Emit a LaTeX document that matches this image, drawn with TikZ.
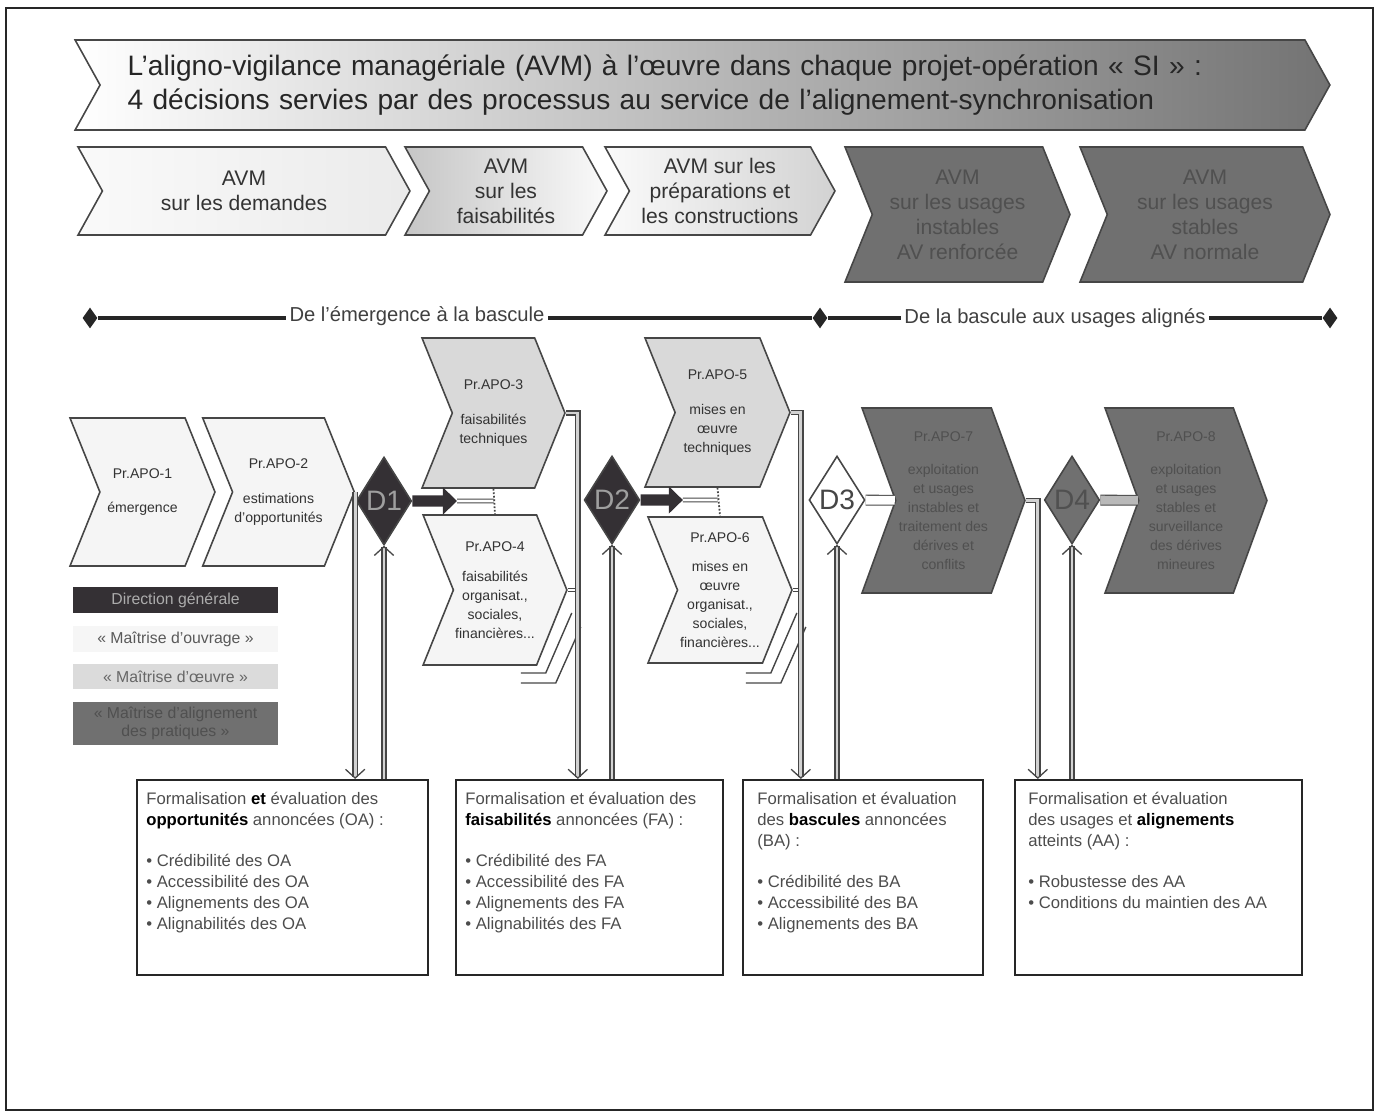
\documentclass[tikz,border=0pt]{standalone}
\usepackage{fontspec}
\setmainfont{Liberation Sans}
\usetikzlibrary{positioning,shapes.symbols,shapes.geometric,arrows.meta,calc}
\definecolor{DecDark}{RGB}{52,48,52}
\definecolor{UsageGray}{RGB}{112,112,112}
\definecolor{UsageText}{RGB}{80,80,80}
\definecolor{InkGray}{RGB}{70,70,70}

\begin{document}
\begin{tikzpicture}[x=0.02cm,y=-0.02cm,
    chev/.style={signal,signal to=east,signal from=west,
                 signal pointer angle=#1,draw=InkGray,line width=0.9pt,
                 inner sep=1pt,align=center},
    banner/.style={chev=122,minimum width=25.1cm,minimum height=1.8cm,
                   left color=white,middle color=gray!22,right color=black!55,
                   text width=23cm,align=left,
                   font=\fontsize{16}{19}\selectfont,text=black!85},
    avm/.style={chev=122,minimum height=1.76cm,
                font=\fontsize{12}{14.2}\selectfont,text=black!80},
    avmdark/.style={chev=136,minimum height=2.7cm,fill=UsageGray,
                    font=\fontsize{12}{14.2}\selectfont,text=UsageText},
    apo/.style={chev=136,minimum width=2.9cm,minimum height=2.96cm,
                font=\fontsize{8}{10.8}\selectfont,text=black!80},
    apodark/.style={chev=140,minimum width=3.26cm,minimum height=3.7cm,
                    fill=UsageGray,font=\fontsize{8}{10.8}\selectfont,text=UsageText},
    dec/.style={diamond,draw=InkGray,line width=0.9pt,inner sep=0pt,
                minimum width=1.04cm,minimum height=1.76cm,
                font=\fontsize{16}{16}\selectfont},
    legend/.style={minimum width=4.1cm,minimum height=0.52cm,inner sep=1pt,
                   align=center,font=\fontsize{9}{10.5}\selectfont},
    evalbox/.style={draw=black!85,line width=1.2pt,minimum height=3.9cm},
    evaltext/.style={inner sep=0pt,align=left,text=black!70,
                     font=\fontsize{9.5}{12}\selectfont},
    flow/.style={draw=InkGray,line width=0.75pt,double=gray!35,double distance=1.6pt,
                 -{Straight Barb[length=5pt,width=11pt]}},
    link/.style={draw=InkGray,line width=0.5pt,double=white,double distance=1.6pt},
    decarrow/.style={DecDark,line width=6.5pt,-{Triangle[length=8pt,width=15pt]}},
    stack/.style={draw=InkGray,line width=0.8pt},
    phase/.style={draw=black!85,line width=2.4pt},
    phasepin/.style={diamond,fill=black!85,inner sep=0pt,
                     minimum width=0.3cm,minimum height=0.42cm},
    phaselabel/.style={fill=white,inner sep=2pt,text=black!75,
                       font=\fontsize{11.5}{13}\selectfont}]
  \useasboundingbox (0,0) rectangle (1380,1111);
  \draw[line width=1.2pt,black!85] (6,8) rectangle (1373,1110);

  % bandeau titre
  \node[banner] (titre) at (702.5,85)
    {L'aligno-vigilance managériale (AVM) à l'œuvre dans chaque projet-opération « SI » :\\
     4 décisions servies par des processus au service de l'alignement-synchronisation};

  % les cinq AVM
  \node[avm,minimum width=6.64cm,left color=gray!4,right color=gray!16] (avm1) at (244,191)
    {AVM\\sur les demandes};
  \node[avm,minimum width=4.04cm,left color=gray!45,right color=gray!4] (avm2) at (506,191)
    {AVM\\sur les\\faisabilités};
  \node[avm,minimum width=4.6cm,left color=gray!4,right color=gray!35] (avm3) at (720,191)
    {AVM sur les\\préparations et\\les constructions};
  \node[avmdark,minimum width=4.5cm] (avm4) at (957.5,214.5)
    {AVM\\sur les usages\\instables\\AV renforcée};
  \node[avmdark,minimum width=5cm] (avm5) at (1205,214.5)
    {AVM\\sur les usages\\stables\\AV normale};

  % phases
  \node[phasepin] (pin1) at (90,318) {};
  \node[phasepin] (pin2) at (820,318) {};
  \node[phasepin] (pin3) at (1330,318) {};
  \draw[phase] (pin1) -- (pin2) -- (pin3);
  \node[phaselabel] (phase1) at (417,316) {De l'émergence à la bascule};
  \node[phaselabel] (phase2) at (1055,318) {De la bascule aux usages alignés};

  % processus
  \node[apo,fill=gray!8] (apo1) at (142.5,492) {Pr.APO-1\\[9pt]émergence};
  \node[apo,fill=gray!8,minimum width=2.94cm] (apo2) at (278.5,492)
    {Pr.APO-2\\[9pt]estimations\\d'opportunités};
  \node[apo,fill=gray!30,minimum width=2.86cm,minimum height=3cm] (apo3) at (493.5,413)
    {Pr.APO-3\\[9pt]faisabilités\\techniques};
  \node[apo,fill=gray!8,minimum width=2.8cm,minimum height=3cm] (apo4) at (495,590)
    {Pr.APO-4\\[6pt]faisabilités\\organisat.,\\sociales,\\financières...};
  \node[apo,fill=gray!30,minimum height=2.98cm] (apo5) at (717.5,412.5)
    {Pr.APO-5\\[9pt]mises en\\œuvre\\techniques};
  \node[apo,fill=gray!8,minimum width=2.88cm,minimum height=2.92cm] (apo6) at (720,590)
    {Pr.APO-6\\[6pt]mises en\\œuvre\\organisat.,\\sociales,\\financières...};
  \node[apodark] (apo7) at (943.5,500.5)
    {Pr.APO-7\\[8pt]exploitation\\et usages\\instables et\\traitement des\\dérives et\\conflits};
  \node[apodark,minimum width=3.24cm] (apo8) at (1186,500.5)
    {Pr.APO-8\\[8pt]exploitation\\et usages\\stables et\\surveillance\\des dérives\\mineures};

  % piles derrière Pr.APO-4 et Pr.APO-6
  \draw[stack] ([shift={(4,23)}]apo4.east) -- ([shift={(-22,83)}]apo4.east) -- ([shift={(-47,83)}]apo4.east);
  \draw[stack] ([shift={(13,37)}]apo4.east) -- ([shift={(-12,93)}]apo4.east) -- ([shift={(-47,93)}]apo4.east);
  \draw[stack] ([shift={(4,23)}]apo6.east) -- ([shift={(-22,83)}]apo6.east) -- ([shift={(-47,83)}]apo6.east);
  \draw[stack] ([shift={(13,37)}]apo6.east) -- ([shift={(-12,93)}]apo6.east) -- ([shift={(-47,93)}]apo6.east);

  % décisions
  \node[dec,fill=DecDark,text=gray!75] (d1) at (384,501) {D1};
  \node[dec,fill=DecDark,text=gray!75] (d2) at (612,500) {D2};
  \node[dec,fill=white,text=InkGray] (d3) at (837,500) {D3};
  \node[dec,fill=UsageGray,text=UsageText] (d4) at (1072,500) {D4};

  % légende
  \node[legend,fill=DecDark,text=gray!65] (lg1) at (175.5,600) {Direction générale};
  \node[legend,fill=gray!7,text=black!65] (lg2) at (175.5,639) {« Maîtrise d'ouvrage »};
  \node[legend,fill=gray!28,text=black!60] (lg3) at (175.5,676.5) {« Maîtrise d'œuvre »};
  \node[legend,fill=UsageGray,text=UsageText,minimum height=0.86cm] (lg4) at (175.5,723.5)
    {« Maîtrise d'alignement\\des pratiques »};

  % évaluations
  \node[evalbox,minimum width=5.82cm] (b1) at (282.5,877.5) {};
  \node[evalbox,minimum width=5.34cm] (b2) at (589.5,877.5) {};
  \node[evalbox,minimum width=4.8cm] (b3) at (863,877.5) {};
  \node[evalbox,minimum width=5.74cm] (b4) at (1158.5,877.5) {};
  \node[evaltext,below right=0.26cm and 0.2cm of b1.north west] (b1txt)
    {Formalisation \textbf{\color{black}et} évaluation des\\
     \textbf{\color{black}opportunités} annoncées (OA) :\\[11pt]
     • Crédibilité des OA\\• Accessibilité des OA\\• Alignements des OA\\• Alignabilités des OA};
  \node[evaltext,below right=0.26cm and 0.2cm of b2.north west] (b2txt)
    {Formalisation et évaluation des\\
     \textbf{\color{black}faisabilités} annoncées (FA) :\\[11pt]
     • Crédibilité des FA\\• Accessibilité des FA\\• Alignements des FA\\• Alignabilités des FA};
  \node[evaltext,below right=0.26cm and 0.3cm of b3.north west] (b3txt)
    {Formalisation et évaluation\\des \textbf{\color{black}bascules} annoncées\\(BA) :\\[11pt]
     • Crédibilité des BA\\• Accessibilité des BA\\• Alignements des BA};
  \node[evaltext,below right=0.26cm and 0.28cm of b4.north west] (b4txt)
    {Formalisation et évaluation\\des usages et \textbf{\color{black}alignements}\\atteints (AA) :\\[11pt]
     • Robustesse des AA\\• Conditions du maintien des AA};

  % sorties des processus vers les évaluations
  \coordinate (in2) at ($(apo3.east |- b2.north)+(12,0)$);
  \coordinate (in3) at ($(apo5.east |- b3.north)+(10,0)$);
  \coordinate (in4) at ($(apo7.east |- b4.north)+(12,0)$);
  \draw[link] (apo4.east) -- (apo4.east -| in2);
  \draw[link] (apo6.east) -- (apo6.east -| in3);
  \draw[flow] (apo2.east) -- (apo2.east |- b1.north);
  \draw[flow] (apo3.east) -| (in2);
  \draw[flow] (apo5.east) -| (in3);
  \draw[flow] (apo7.east) -| (in4);

  % retours des évaluations vers les décisions
  \draw[flow] (d1.south |- b1.north) -- (d1.south);
  \draw[flow] (d2.south |- b2.north) -- (d2.south);
  \draw[flow] (d3.south |- b3.north) -- (d3.south);
  \draw[flow] (d4.south |- b4.north) -- (d4.south);

  % décisions vers processus
  \coordinate (j1) at ($(d1.east)!0.55!(apo3.south |- d1.east)$);
  \coordinate (j2) at ($(d2.east)!0.55!(apo5.south |- d2.east)$);
  \draw[link] (j1) -- (apo3.south |- d1.east);
  \draw[link] (j2) -- (apo5.south |- d2.east);
  \draw[decarrow] (d1.east) -- (j1);
  \draw[decarrow] (d2.east) -- (j2);
  \draw[InkGray,line width=1pt,densely dotted] (apo3.south) -- (apo4.north);
  \draw[InkGray,line width=1pt,densely dotted] (apo5.south) -- (apo6.north);
  \draw[draw=InkGray,line width=0.6pt,double=white,double distance=5pt] (d3) -- (apo7);
  \draw[draw=InkGray,line width=0.6pt,double=gray!55,double distance=5pt] (d4) -- (apo8);
\end{tikzpicture}
\end{document}
